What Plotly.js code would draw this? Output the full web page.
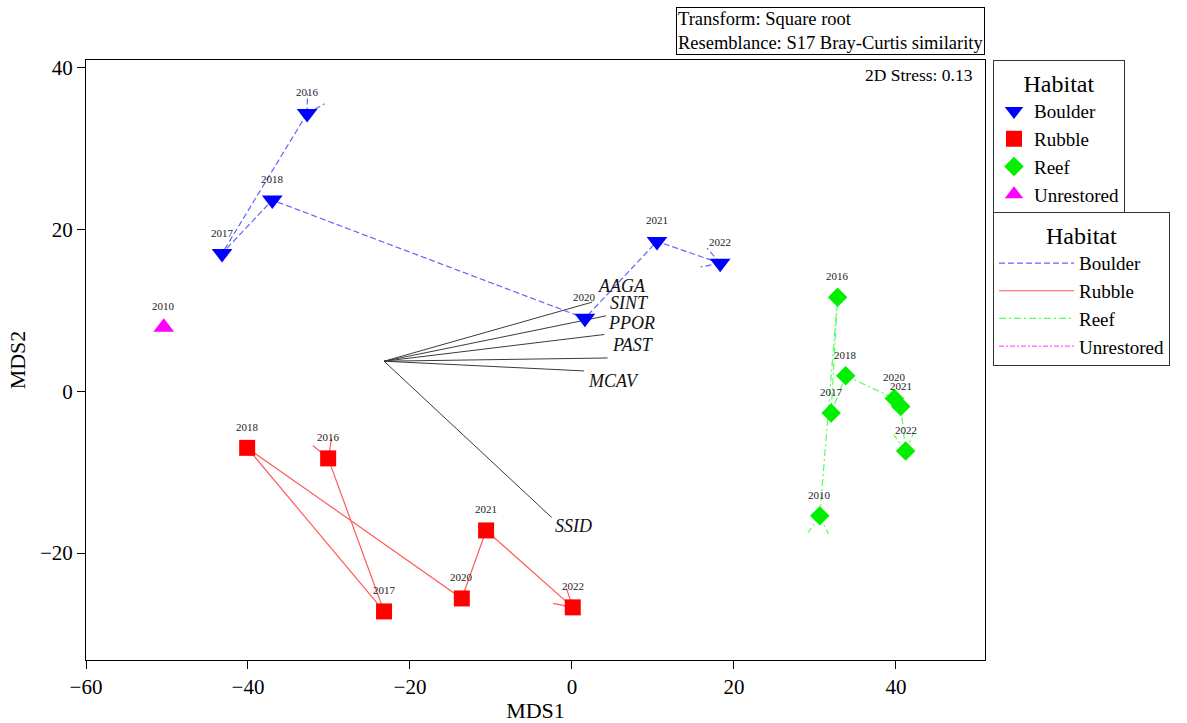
<!DOCTYPE html>
<html>
<head>
<meta charset="utf-8">
<script src="https://cdn.plot.ly/plotly-3.0.1.min.js"></script>
<style>html,body{margin:0;padding:0;background:#fff;}</style>
</head>
<body>
<div id="chart" style="width:1187px;height:723px;"></div>
<script>
// ---- data ----
const boulderYears = ['2016','2017','2018','2020','2021','2022'];
const boulderX = [-32.7, -43.2, -37.0, 1.6, 10.5, 18.3];
const boulderY = [34.3, 17.0, 23.6, 9.0, 18.5, 15.8];

const rubbleYears = ['2016','2017','2018','2020','2021','2022'];
const rubbleX = [-30.1, -23.2, -40.1, -13.6, -10.6, 0.1];
const rubbleY = [-8.3, -27.2, -7.0, -25.6, -17.2, -26.7];

const reefYears = ['2010','2016','2017','2018','2020','2021','2022'];
const reefX = [30.6, 32.8, 32.0, 33.8, 39.8, 40.6, 41.2];
const reefY = [-15.4, 11.6, -2.7, 1.9, -0.9, -1.9, -7.4];

const unrestoredYears = ['2010'];
const unrestoredX = [-50.4];
const unrestoredY = [7.9];

const vecNames = ['AAGA','SINT','PPOR','PAST','MCAV','SSID'];
const vecOriginX = -23.2;
const vecOriginY = 3.7;
const vecX = [2.5, 4.2, 4.0, 4.4, 1.5, -2.5];
const vecY = [11.0, 9.3, 7.0, 4.1, 2.5, -15.6];

const xTicks = [-60, -40, -20, 0, 20, 40];
const yTicks = [-20, 0, 20, 40];

// ---- styles ----
const SERIF = 'Liberation Serif';
const vecLabelShift = [[30,16],[24,13],[27,11],[25,13],[29,-10],[22,-9]];
const XR = [-60, 51], YR = [-33.2, 40.9];
const M = {l:86, r:202, t:60, b:63};
const W = 1187, H = 723;
const pxPerX = (W - M.l - M.r) / (XR[1]-XR[0]);
const pxPerY = (H - M.t - M.b) / (YR[1]-YR[0]);

// open arrowhead wings at a tip pointing along direction (dx,dy)
function wings(tx, ty, dx, dy) {
  const px = dx*pxPerX, py = dy*pxPerY;
  const n = Math.hypot(px, py);
  const ux = px/n, uy = py/n;
  const L = 20, a = Math.PI/6;
  const out = [];
  [a, -a].forEach(t => {
    const rx = ux*Math.cos(t) - uy*Math.sin(t);
    const ry = ux*Math.sin(t) + uy*Math.cos(t);
    out.push([tx, ty], [tx - L*rx/pxPerX, ty - L*ry/pxPerY], [null, null]);
  });
  return out;
}
function trajectory(xs, ys) {
  const X = [], Y = [];
  for (let i=0;i<xs.length;i++){ X.push(xs[i]); Y.push(ys[i]); }
  X.push(null); Y.push(null);
  if (xs.length > 1) {
    const n = xs.length;
    const w = wings(xs[0], ys[0], xs[1]-xs[0], ys[1]-ys[0])
      .concat(wings(xs[n-1], ys[n-1], xs[n-1]-xs[n-2], ys[n-1]-ys[n-2]));
    w.forEach(p => { X.push(p[0]); Y.push(p[1]); });
  }
  return {x:X, y:Y};
}

const groups = [
  {name:'Boulder', yrs:boulderYears, x:boulderX, y:boulderY, col:'#0000ff', line:'#6464ff', dash:'6px,3px', sym:'triangle-down', size:18},
  {name:'Rubble', yrs:rubbleYears, x:rubbleX, y:rubbleY, col:'#ff0000', line:'#ff5a5a', dash:'solid', sym:'square', size:16},
  {name:'Reef', yrs:reefYears, x:reefX, y:reefY, col:'#00f000', line:'#5aff5a', dash:'7px,3px,2px,3px', sym:'diamond', size:15},
  {name:'Unrestored', yrs:unrestoredYears, x:unrestoredX, y:unrestoredY, col:'#ff00ff', line:'#ff5aff', dash:'5px,2px,2px,2px', sym:'triangle-up', size:18}
];

const traces = [];
const vx = [], vy = [];
vecNames.forEach((n,i) => { vx.push(vecOriginX, vecX[i], null); vy.push(vecOriginY, vecY[i], null); });
traces.push({x:vx, y:vy, mode:'lines', line:{color:'#3a3a3a', width:1}, showlegend:false, hoverinfo:'skip'});

groups.forEach(g => {
  const t = g.x.length > 1 ? trajectory(g.x, g.y) : {x:[null], y:[null]};
  traces.push({x:t.x, y:t.y, mode:'lines', name:g.name, legend:'legend2',
    line:{color:g.line, width:1.2, dash:g.dash}, hoverinfo:'skip'});
});
groups.forEach(g => {
  traces.push({x:g.x, y:g.y, mode:'markers', name:g.name, legend:'legend', text:g.yrs,
    marker:{symbol:g.sym, size:g.size, color:g.col, line:{width:0}}});
});

const annotations = [];
groups.forEach(g => {
  g.yrs.forEach((yr,i) => {
    annotations.push({x:g.x[i], y:g.y[i], text:yr, showarrow:false, yshift:21,
      font:{family:SERIF, size:11, color:'#222'}});
  });
});
vecNames.forEach((n,i) => {
  annotations.push({x:vecX[i], y:vecY[i], text:'<i>'+n+'</i>', showarrow:false,
    xshift:vecLabelShift[i][0], yshift:vecLabelShift[i][1],
    font:{family:SERIF, size:18, color:'#111'}});
});
annotations.push({xref:'paper', yref:'paper', x:1, y:(H-M.b-7)/(H-M.t-M.b), xanchor:'right', yanchor:'top',
  text:'Transform: Square root<br>Resemblance: S17 Bray-Curtis similarity', align:'left', showarrow:false,
  bordercolor:'#000', borderwidth:1, borderpad:1, font:{family:SERIF, size:18.5, color:'#000'}});
annotations.push({xref:'paper', yref:'paper', x:1, y:1, xanchor:'right', yanchor:'top', xshift:-10, yshift:-3,
  text:'2D Stress: 0.13', showarrow:false, font:{family:SERIF, size:17.5, color:'#000'}});

const axisCommon = {showgrid:false, zeroline:false, showline:true, linecolor:'#000', linewidth:1, mirror:true,
  ticks:'outside', ticklen:8, tickcolor:'#000', tickfont:{family:SERIF, size:21, color:'#000'}};

const layout = {
  width:W, height:H, margin:M, paper_bgcolor:'#fff', plot_bgcolor:'#fff',
  font:{family:SERIF, color:'#000'},
  xaxis:Object.assign({}, axisCommon, {range:XR, tickvals:xTicks, title:{text:'MDS1', font:{family:SERIF, size:22}, standoff:4}}),
  yaxis:Object.assign({}, axisCommon, {range:YR, tickvals:yTicks, title:{text:'MDS2', font:{family:SERIF, size:22}, standoff:8}}),
  legend:{x:(993-M.l)/(W-M.l-M.r), y:1-(60-M.t)/(H-M.t-M.b), xanchor:'left', yanchor:'top',
    bordercolor:'#333', borderwidth:1, bgcolor:'#fff', itemwidth:30, tracegroupgap:0,
    title:{text:'Habitat', side:'top center', font:{family:SERIF, size:24}}, font:{family:SERIF, size:19}},
  legend2:{x:(993-M.l)/(W-M.l-M.r), y:1-(212-M.t)/(H-M.t-M.b), xanchor:'left', yanchor:'top',
    bordercolor:'#333', borderwidth:1, bgcolor:'#fff', itemwidth:75,
    title:{text:'Habitat', side:'top center', font:{family:SERIF, size:24}}, font:{family:SERIF, size:19}},
  annotations:annotations, showlegend:true
};

Plotly.newPlot('chart', traces, layout, {displayModeBar:false, staticPlot:true});
</script>
</body>
</html>
